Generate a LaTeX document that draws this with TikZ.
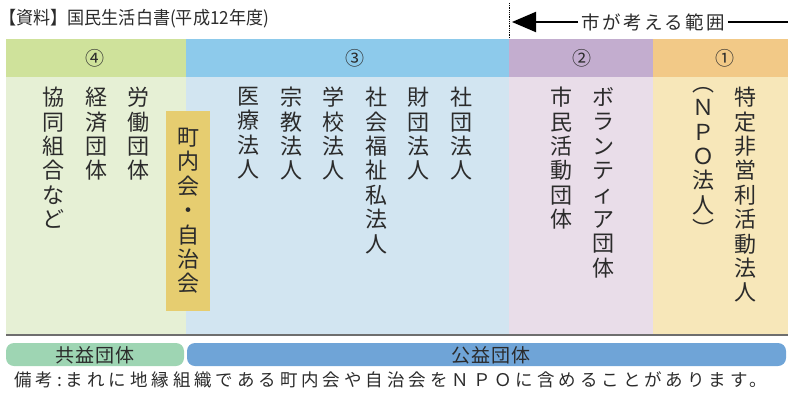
\documentclass[tikz,border=0pt]{standalone}
\usepackage{fontspec}
\setmainfont{Noto Sans CJK JP}
\usetikzlibrary{arrows.meta}
\definecolor{chu}{HTML}{2B2B2B}
\definecolor{dauxanhla}{HTML}{CFE29B}
\definecolor{dauxanh}{HTML}{8DCAEB}
\definecolor{dautim}{HTML}{C3ADCF}
\definecolor{daucam}{HTML}{F2C987}
\definecolor{thanxanhla}{HTML}{E6F0D5}
\definecolor{thanxanh}{HTML}{D2E5F1}
\definecolor{thantim}{HTML}{E9DDE9}
\definecolor{thancam}{HTML}{F7E7B9}
\definecolor{hopvang}{HTML}{E6CD70}
\definecolor{dailuc}{HTML}{9ED5B3}
\definecolor{dailam}{HTML}{6FA4D7}
\definecolor{vach}{HTML}{6E6E6E}
\tikzset{
  doc/.style={anchor=north,inner sep=0pt,align=center,text=chu,
    font=\fontsize{22bp}{24.4bp}\selectfont},
  so/.style={inner sep=0pt,text=chu,font=\fontsize{19bp}{20bp}\selectfont},
  dai/.style={rounded corners=8bp},
  chudai/.style={inner sep=0pt,text=chu,
    font=\fontsize{19bp}{20bp}\selectfont\addfontfeature{LetterSpace=6}}
}
\begin{document}
\begin{tikzpicture}[x=1bp,y=-1bp]
\useasboundingbox (0,0) rectangle (788,394);
%Tieu de
\node[anchor=west,inner sep=0pt,text=chu,font=\fontsize{18bp}{19bp}\selectfont]
  (tieude) at (-1,19) {\scalebox{0.95}[1]{【資料】国民生活白書(平成12年度)}};
%Pham vi cua thanh pho
\draw[densely dotted,line width=0.8bp] (509,3) -- (509,39);
\node[inner sep=3bp,text=chu,font=\fontsize{18.5bp}{20bp}\selectfont\addfontfeature{LetterSpace=13}]
  (phamvi) at (653,22) {市が考える範囲};
\coordinate (dinh) at (512,22);
\coordinate (cuoi) at (788,22);
\draw[line width=2bp,-{Triangle[length=24bp,width=20bp]}] (phamvi.west) -- (dinh);
\draw[line width=2bp] (phamvi.east) -- (cuoi);
%Hang dau
\fill[dauxanhla] (6,39) rectangle (186,77);
\fill[dauxanh] (186,39) rectangle (509,77);
\fill[dautim] (509,39) rectangle (653,77);
\fill[daucam] (653,39) rectangle (788,77);
\node[so] (so4) at (95,58) {④};
\node[so] (so3) at (355,58) {③};
\node[so] (so2) at (582,58) {②};
\node[so] (so1) at (725,58) {①};
%Than bang
\fill[thanxanhla] (6,77) rectangle (186,335);
\fill[thanxanh] (186,77) rectangle (509,335);
\fill[thantim] (509,77) rectangle (653,335);
\fill[thancam] (653,77) rectangle (788,335);
\draw[vach,line width=2bp] (6,335) -- (788,335);
%Cot 4
\node[doc] (laodong) at (138,87) {労\\働\\団\\体};
\node[doc] (kinhte) at (96,87) {経\\済\\団\\体};
\node[doc] (hoptac) at (53,87) {協\\同\\組\\合\\な\\ど};
%Hop cho noi
\node[doc,anchor=center,fill=hopvang,minimum width=44bp,minimum height=200bp]
  (chonai) at (188,211) {町\\内\\会\\・\\自\\治\\会};
%Cot 3
\node[doc] (yte) at (248,87) {医\\療\\法\\人};
\node[doc] (tongiao) at (291,87) {宗\\教\\法\\人};
\node[doc] (truong) at (333,87) {学\\校\\法\\人};
\node[doc] (phucloi) at (376,87) {社\\会\\福\\祉\\私\\法\\人};
\node[doc] (taidoan) at (418,87) {財\\団\\法\\人};
\node[doc] (xadoan) at (461,87) {社\\団\\法\\人};
%Cot 2
\node[doc] (thimin) at (561,87) {市\\民\\活\\動\\団\\体};
\node[doc] (tinhnguyen) at (603,87) {ボ\\ラ\\ン\\テ\\ィ\\ア\\団\\体};
%Cot 1
\node[doc] (npo) at (703,87) {︵\\Ｎ\\Ｐ\\Ｏ\\法\\人\\︶};
\node[doc] (tokutei) at (745,87) {特\\定\\非\\営\\利\\活\\動\\法\\人};
%Dai duoi
\fill[dailuc,dai] (6,343) rectangle (184,366);
\fill[dailam,dai] (187,343) rectangle (786,366);
\node[chudai] (kyoeki) at (95,355) {共益団体};
\node[chudai] (koeki) at (491,355) {公益団体};
%Ghi chu
\node[anchor=west,inner sep=0pt,text=chu,
  font=\fontsize{17.5bp}{19bp}\selectfont\addfontfeature{LetterSpace=22.5}]
  (ghichu) at (14,380) {備考:まれに地縁組織である町内会や自治会をＮＰＯに含めることがあります。};
\end{tikzpicture}
\end{document}
